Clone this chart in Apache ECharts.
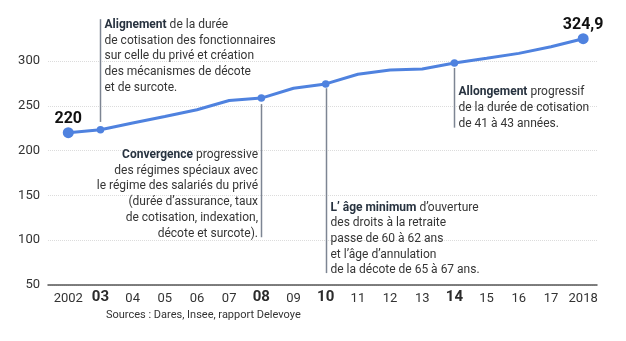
<!DOCTYPE html>
<html><head><meta charset="utf-8">
<script src="https://cdn.jsdelivr.net/npm/echarts@6/dist/echarts.min.js"></script>
<style>html,body{margin:0;padding:0;background:#fff}#c{width:626px;height:341px}</style>
</head><body><div id="c"></div>
<script>
const years = [2002,2003,2004,2005,2006,2007,2008,2009,2010,2011,2012,2013,2014,2015,2016,2017,2018];
const values = [220,223.3,230.8,238.1,245.6,255.9,258.6,269.6,274.4,285.2,290,291.1,297.8,303,308.5,315.9,324.9];
const markedYears = [2003,2008,2010,2014];
const endYears = [2002,2018];
const boldYears = [2003,2008,2010,2014];
const yTicks = [50,100,150,200,250,300];
const sourceText = 'Sources : Dares, Insee, rapport Delevoye';

const annotations = [
  {year:2003, lineFrom:346.7, lineTo:232, textTop:349.7, side:'right',
   text:'{b|Alignement} de la durée\nde cotisation des fonctionnaires\nsur celle du privé et création\ndes mécanismes de décote\net de surcote.'},
  {year:2008, lineFrom:251.9, lineTo:103.3, textTop:204.4, side:'left',
   text:'{b|Convergence} progressive\ndes régimes spéciaux avec\nle régime des salariés du privé\n(durée d\u2019assurance, taux\nde cotisation, indexation,\ndécote et surcote).'},
  {year:2010, lineFrom:269.6, lineTo:63.3, textTop:145.6, side:'right',
   text:'{b|L\u2019 âge minimum} d\u2019ouverture\ndes droits à la retraite\npasse de 60 à 62 ans\net l\u2019âge d\u2019annulation\nde la décote de 65 à 67 ans.'},
  {year:2014, lineFrom:292.2, lineTo:225.6, textTop:274.4, side:'right',
   text:'{b|Allongement} progressif\nde la durée de cotisation\nde 41 à 43 années.'}
];

const chart = echarts.init(document.getElementById('c'), null, {renderer:'canvas'});
const FONT = 'Roboto';
const data = years.map((y,i)=>{
  const isEnd = endYears.includes(y), isMark = markedYears.includes(y);
  const item = {value:[y, values[i]], symbolSize: isEnd ? 11 : (isMark ? 7.5 : 0)};
  if (isEnd) item.label = {show:true, position:'top', distance:0,
    formatter: String(values[i]).replace('.', ','), fontFamily:FONT, fontWeight:'bold', fontSize:16, color:'#111'};
  return item;
});

chart.setOption({
  animation:false,
  textStyle:{fontFamily:FONT},
  grid:{left:48, right:29, top:61, bottom:56, containLabel:false},
  xAxis:{type:'value', min:2001.37, max:2018.43,
    axisLine:{show:true, lineStyle:{color:'#555', width:1.5}},
    axisTick:{show:false}, splitLine:{show:false},
    axisLabel:{customValues:years, margin:5, color:'#333', fontFamily:FONT,
      formatter:(v)=>{ v=Math.round(v);
        if (boldYears.includes(v)) return '{b|'+String(v).slice(2)+'}';
        if (v===2002||v===2018) return '{n|'+v+'}';
        return '{n|'+String(v).slice(2)+'}'; },
      rich:{n:{fontSize:13, color:'#333', fontFamily:FONT, padding:[2,0,0,0]},
            b:{fontSize:15, fontWeight:'bold', color:'#2b2b2b', fontFamily:FONT}}}},
  yAxis:{type:'value', min:50, max:300, interval:50,
    axisLine:{show:false}, axisTick:{show:false},
    axisLabel:{margin:8, color:'#333', fontSize:13, fontFamily:FONT},
    splitLine:{show:true, lineStyle:{color:'#dcdcdc', type:'dotted', width:1}}},
  series:[{type:'line', data:data, clip:false, symbol:'circle', showAllSymbol:true,
    lineStyle:{color:'#4f82df', width:3}, itemStyle:{color:'#4f82df'}, z:5}]
});

const g = [];
annotations.forEach(a=>{
  const p1 = chart.convertToPixel({gridIndex:0}, [a.year, a.lineFrom]);
  const p2 = chart.convertToPixel({gridIndex:0}, [a.year, a.lineTo]);
  const pt = chart.convertToPixel({gridIndex:0}, [a.year, a.textTop]);
  const x = Math.round(p1[0]) + 0.5;
  g.push({type:'line', shape:{x1:x, y1:p1[1], x2:x, y2:p2[1]}, style:{stroke:'#7d8593', lineWidth:1.5}, z:3});
  g.push({type:'text', x: a.side==='right' ? x+4 : x-3.5, y: pt[1]+0.5, z:4,
    style:{text:a.text, align: a.side==='right' ? 'left':'right', verticalAlign:'top',
      fontFamily:FONT, fontSize:12, lineHeight:15.7, fill:'#353535',
      rich:{b:{fontFamily:FONT, fontSize:12, lineHeight:15.7, fontWeight:'bold', fill:'#27323f'}}}});
});
const ps = chart.convertToPixel({gridIndex:0}, [2003, 50]);
g.push({type:'text', x: ps[0]+5.5, y: 309.5, style:{text:sourceText, fontFamily:FONT, fontSize:11, fill:'#333', verticalAlign:'top'}});
chart.setOption({graphic:g});
</script></body></html>
